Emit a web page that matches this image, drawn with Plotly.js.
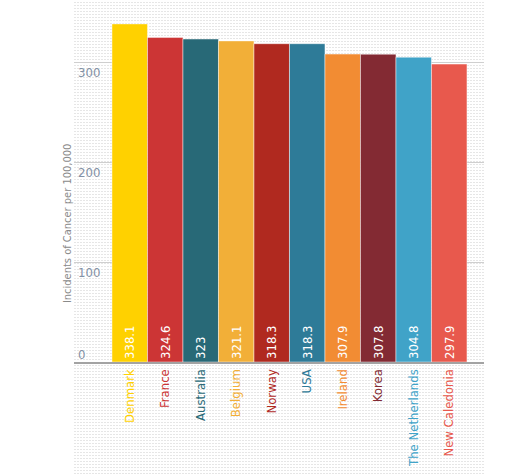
<!DOCTYPE html>
<html>
<head>
<meta charset="utf-8">
<script src="https://cdn.plot.ly/plotly-3.0.1.min.js"></script>
<style>
  html, body { margin:0; padding:0; background:#fff; }
  #wrap { position:relative; width:530px; height:474px; overflow:hidden; }
  #pattern { position:absolute; left:74px; top:0; width:410px; height:474px;
    background-image: linear-gradient(#fff 2px, rgba(255,255,255,0) 2px),
                      linear-gradient(90deg, #e6e6e6 2px, #fff 2px);
    background-size: 3px 3px; }
  #chart { position:absolute; left:0; top:0; width:530px; height:474px; }
</style>
</head>
<body>
<div id="wrap"><div id="pattern"></div><div id="chart"></div></div>
<script>
const countries = ["Denmark","France","Australia","Belgium","Norway","USA","Ireland","Korea","The Netherlands","New Caledonia"];
const incidence = [338.1, 324.6, 323, 321.1, 318.3, 318.3, 307.9, 307.8, 304.8, 297.9];
const barColors = ["#FFD100","#CC3535","#286977","#F2AF38","#B0291F","#2E7B98","#F28C33","#832A33","#40A3C8","#E8594D"];
const yTickVals = [0, 100, 200, 300];
const yTickLabels = ["0", "100", "200", "300"];
const yTitle = "Incidents of Cancer per 100,000";

const FONT = '"Liberation Sans Narrow", "DejaVu Sans Condensed", "Roboto Condensed", sans-serif';

const trace = {
  type: 'bar',
  x: countries.map((c, i) => i),
  y: incidence,
  text: incidence.map(v => String(v)),
  texttemplate: '%{text}',
  textposition: 'inside',
  insidetextanchor: 'start',
  textangle: -90,
  constraintext: 'none',
  textfont: { color: '#ffffff', size: 13, family: FONT },
  marker: { color: barColors, line: { color: 'rgba(255,255,255,0.45)', width: 1 } },
  hoverinfo: 'skip'
};

const annotations = yTickVals.map((v, i) => ({
  x: 0, xref: 'paper', xanchor: 'left', xshift: 2,
  y: v, yref: 'y', yanchor: 'middle', yshift: v === 0 ? 8 : -10,
  text: yTickLabels[i], showarrow: false,
  font: { family: FONT, size: 13, color: '#8391a5' }
}));
annotations.push({
  x: 0, xref: 'paper', xanchor: 'center', xshift: -7,
  y: 0.381, yref: 'paper', yanchor: 'middle',
  text: yTitle, textangle: -90, showarrow: false,
  font: { family: FONT, size: 11, color: '#8a8a8a' }
});

const layout = {
  width: 530, height: 474,
  margin: { l: 74, r: 46, t: 0, b: 112, pad: 0 },
  paper_bgcolor: 'rgba(0,0,0,0)',
  plot_bgcolor: 'rgba(0,0,0,0)',
  bargap: 0,
  showlegend: false,
  font: { family: FONT },
  xaxis: {
    range: [-1.57, 9.98],
    tickvals: countries.map((c, i) => i),
    ticktext: countries.map((c, i) => '<span style="color:' + barColors[i] + '">' + c + '</span>'),
    tickangle: -90,
    tickfont: { family: FONT, size: 13 },
    showgrid: false, zeroline: false,
    showline: true, linecolor: '#a3a3a3', linewidth: 2,
    ticks: '', fixedrange: true
  },
  yaxis: {
    range: [0, 362],
    tickvals: yTickVals,
    showticklabels: false,
    showgrid: true, gridcolor: '#cfcfcf', gridwidth: 1,
    zeroline: false, showline: false, ticks: '', fixedrange: true
  },
  annotations: annotations
};

Plotly.newPlot('chart', [trace], layout, { displayModeBar: false, staticPlot: true });
</script>
</body>
</html>
